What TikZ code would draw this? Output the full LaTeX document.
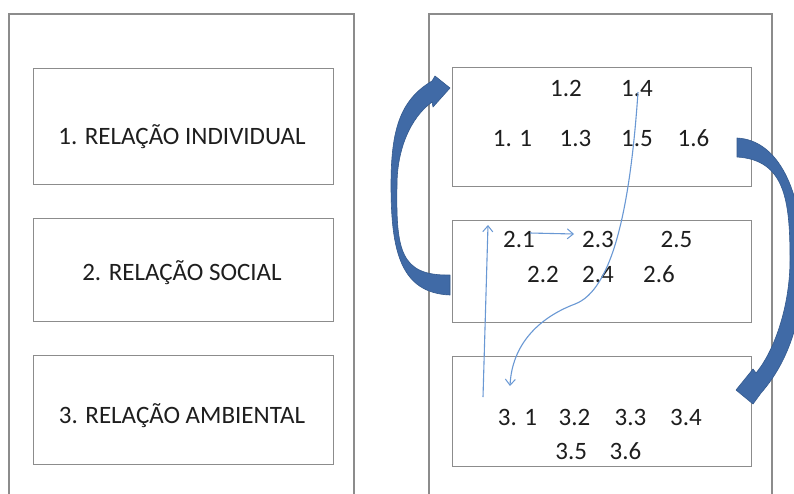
\documentclass[tikz,border=0pt]{standalone}
\usepackage{fontspec}
\setmainfont{Carlito}
\usetikzlibrary{arrows.meta}
\definecolor{boxgray}{RGB}{140,140,140}
\definecolor{txt}{RGB}{30,30,30}
\definecolor{bigblue}{RGB}{64,106,166}
\definecolor{bigedge}{RGB}{52,90,142}
\definecolor{thinblue}{RGB}{105,152,212}
\begin{document}
\begin{tikzpicture}[x=1pt,y=-1pt,
  frame/.style={draw=boxgray,line width=1.3pt},
  inbox/.style={draw=boxgray,line width=1.3pt},
  lab/.style={anchor=base,inner sep=0pt,text=txt,font=\fontsize{25}{30}\selectfont},
  num/.style={anchor=base,inner sep=0pt,text=txt,font=\fontsize{25}{30}\selectfont},
  bigarrow/.style={fill=bigblue,draw=bigedge,line width=0.6pt,line join=round},
  thin/.style={draw=thinblue,line width=1.1pt,-{Straight Barb[length=6pt,width=10pt,line width=1pt]}}]
\useasboundingbox (0,0) rectangle (794,493);
\clip (0,0) rectangle (794,493);
\fill[white] (0,0) rectangle (794,493);
% outer frames (open at bottom)
\draw[frame] (9,500) -- (9,14) -- (354,14) -- (354,500);
\draw[frame] (429,500) -- (429,14) -- (772,14) -- (772,500);
% left boxes
\node[inbox,minimum width=300pt,minimum height=116pt,anchor=north west] (L1) at (33,68) {};
\node[inbox,minimum width=300pt,minimum height=103pt,anchor=north west] (L2) at (33,218) {};
\node[inbox,minimum width=300pt,minimum height=109pt,anchor=north west] (L3) at (33,355) {};
\node[lab] (L1t) at (182,144) {1. RELAÇÃO INDIVIDUAL};
\node[lab] (L2t) at (182,280) {2. RELAÇÃO SOCIAL};
\node[lab] (L3t) at (182,423) {3. RELAÇÃO AMBIENTAL};
% right boxes
\node[inbox,minimum width=299pt,minimum height=119pt,anchor=north west] (R1) at (452,67) {};
\node[inbox,minimum width=299pt,minimum height=102pt,anchor=north west] (R2) at (452,220) {};
\node[inbox,minimum width=299pt,minimum height=110pt,anchor=north west] (R3) at (452,356) {};
% numbers
\node[num] (n12) at (566,96) {1.2};
\node[num] (n14) at (637,96) {1.4};
\node[num] (n11) at (512.5,146) {1. 1};
\node[num] (n13) at (575.5,146) {1.3};
\node[num] (n15) at (637,146) {1.5};
\node[num] (n16) at (693.5,146) {1.6};
\node[num] (n21) at (519,247) {2.1};
\node[num] (n23) at (598,247) {2.3};
\node[num] (n25) at (676.5,247) {2.5};
\node[num] (n22) at (543,282.5) {2.2};
\node[num] (n24) at (598,282.5) {2.4};
\node[num] (n26) at (659,282.5) {2.6};
\node[num] (n31) at (517.5,425) {3. 1};
\node[num] (n32) at (574.5,425) {3.2};
\node[num] (n33) at (630.5,425) {3.3};
\node[num] (n34) at (686,425) {3.4};
\node[num] (n35) at (571.3,459.3) {3.5};
\node[num] (n36) at (625.5,459.3) {3.6};
% big curved arrows
\path[bigarrow] (450,295) .. controls (400,293) and (391,250) .. (391,185)
  .. controls (391,130) and (400,100) .. (432,81) -- (435,76) -- (450,88) -- (433,107) -- (432,102)
  .. controls (410,118) and (397,150) .. (397,185)
  .. controls (396,250) and (400,276) .. (450,275) -- cycle;
\path[bigarrow] (737,138) .. controls (778,140) and (803,190) .. (803,265)
  .. controls (803,315) and (790,360) .. (761,393) -- (753,404) -- (736,390) -- (753,369) -- (756,373)
  .. controls (775,350) and (790,305) .. (790,260)
  .. controls (790,200) and (785,160) .. (737,157) -- cycle;
% thin connectors
\coordinate (a1) at (638,92);
\coordinate (a2) at (575,304);
\coordinate (a3) at (510,386);
\draw[thin] (a1) .. controls (630,210) and (612,290) .. (a2)
  .. controls (538,318) and (512,345) .. (a3);
\coordinate (b1) at (483,397);
\coordinate (b2) at (488,225);
\draw[thin] (b1) -- (b2);
\coordinate (c1) at (530,233);
\coordinate (c2) at (574,234);
\draw[thin] (c1) -- (c2);
\end{tikzpicture}
\end{document}
